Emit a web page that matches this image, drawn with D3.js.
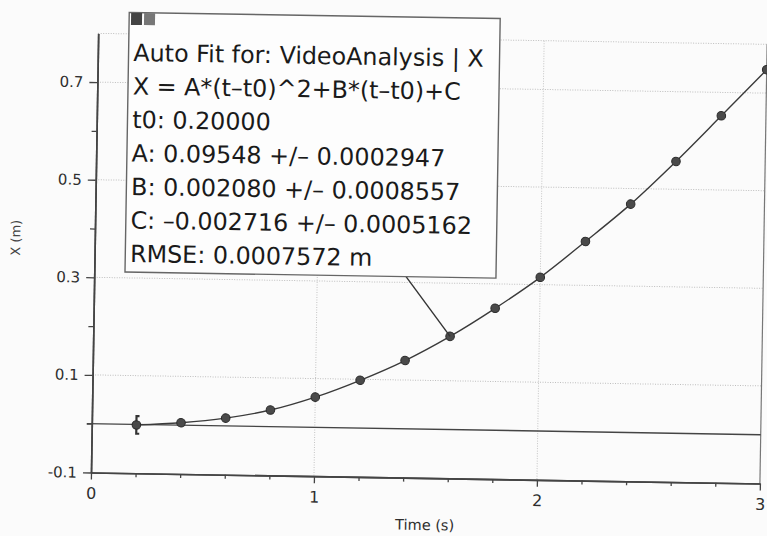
<!DOCTYPE html>
<meta charset="utf-8">
<style>
  body { margin: 0; background: #fbfbfb; }
  text { font-family: "DejaVu Sans", sans-serif; }
</style>

<!-- Load d3.js -->
<script src="https://d3js.org/d3.v7.min.js"></script>

<!-- Create a div where the graph will take place -->
<div id="my_dataviz"></div>

<script>

// values
var times = [0.2, 0.4, 0.6, 0.8, 1.0, 1.2, 1.4, 1.6, 1.8, 2.0, 2.2, 2.4, 2.6, 2.8, 3.0];
var positions = [-0.001, 0.005, 0.016, 0.034, 0.062, 0.098, 0.140, 0.191, 0.250, 0.315, 0.390, 0.468, 0.557, 0.652, 0.748];
var xTicks = [0, 1, 2, 3];
var xMinorTicks = [0.2, 0.4, 0.6, 0.8, 1.2, 1.4, 1.6, 1.8, 2.2, 2.4, 2.6, 2.8];
var yTicks = [-0.1, 0.1, 0.3, 0.5, 0.7];
var yMinorTicks = [0, 0.2, 0.4, 0.6];
var xGrid = [1, 2];
var yGrid = [0.1, 0.3, 0.5, 0.7, 0.8];
var errorIndex = 0, errorSize = 0.018;
var leaderIndex = 7;
var fitLines = [
  "Auto Fit for: VideoAnalysis | X",
  "X = A*(t\u2013t0)^2+B*(t\u2013t0)+C",
  "t0: 0.20000",
  "A: 0.09548 +/\u2013 0.0002947",
  "B: 0.002080 +/\u2013 0.0008557",
  "C: \u20130.002716 +/\u2013 0.0005162",
  "RMSE: 0.0007572 m"
];

// set the dimensions and margins of the graph
var margin = {top: 33.3, right: 7, bottom: 63.5, left: 91},
    width = 669,
    height = 439.2;

var svg = d3.select("#my_dataviz")
  .append("svg")
    .attr("width", 767)
    .attr("height", 536);

svg.append("rect").attr("width", 767).attr("height", 536).attr("fill", "#fbfbfb");

// the photographed page is turned a little
var page = svg.append("g")
  .attr("transform", "rotate(0.94," + margin.left + "," + (margin.top + height) + ")");

var plot = page.append("g")
  .attr("transform", "translate(" + margin.left + "," + margin.top + ")");

var x = d3.scaleLinear().domain([0, 3]).range([0, width]);
var y = d3.scaleLinear().domain([-0.1, 0.8]).range([height, 0]);

// grid
plot.selectAll("hgrid").data(yGrid).enter().append("line")
  .attr("x1", 0).attr("x2", width)
  .attr("y1", function(d) { return y(d); }).attr("y2", function(d) { return y(d); })
  .attr("stroke", "#bdbdbd").attr("stroke-width", 1).attr("stroke-dasharray", "1,1.5");
plot.selectAll("vgrid").data(xGrid).enter().append("line")
  .attr("y1", 0).attr("y2", height)
  .attr("x1", function(d) { return x(d); }).attr("x2", function(d) { return x(d); })
  .attr("stroke", "#c4c4c4").attr("stroke-width", 1).attr("stroke-dasharray", "1,1.5");

// right border
plot.append("line")
  .attr("x1", width).attr("x2", width).attr("y1", 0).attr("y2", height)
  .attr("stroke", "#777").attr("stroke-width", 1.2);

// zero line
plot.append("line")
  .attr("x1", -5).attr("x2", width)
  .attr("y1", y(0)).attr("y2", y(0))
  .attr("stroke", "#444").attr("stroke-width", 1.4);

// X axis
var xAxis = plot.append("g")
  .attr("transform", "translate(0," + height + ")")
  .call(d3.axisBottom(x).tickValues(xTicks).tickSize(7).tickSizeOuter(0).tickPadding(8)
    .tickFormat(d3.format("d")));
plot.append("g")
  .attr("transform", "translate(0," + height + ")")
  .call(d3.axisBottom(x).tickValues(xMinorTicks).tickSize(4).tickSizeOuter(0).tickFormat(""));

// Y axis
var yAxis = plot.append("g")
  .call(d3.axisLeft(y).tickValues(yTicks).tickSize(8).tickSizeOuter(0).tickPadding(6)
    .tickFormat(function(d) { return d3.format(".1f")(d).replace("\u2212", "-"); }));
plot.append("g")
  .call(d3.axisLeft(y).tickValues(yMinorTicks).tickSize(5).tickSizeOuter(0).tickFormat(""));

plot.selectAll(".domain").attr("stroke", "#444").attr("stroke-width", 1.6);
plot.selectAll(".tick line").attr("stroke", "#444").attr("stroke-width", 1.3);
xAxis.selectAll("text").attr("font-size", 16).attr("fill", "#2e2e2e").attr("font-family", "DejaVu Sans");
yAxis.selectAll("text").attr("font-size", 15).attr("fill", "#2e2e2e").attr("font-family", "DejaVu Sans");

// axis titles
page.append("text")
  .attr("x", margin.left + width / 2).attr("y", 524.5)
  .attr("text-anchor", "middle").attr("font-size", 14.5).attr("fill", "#2e2e2e")
  .text("Time (s)");
page.append("text")
  .attr("transform", "translate(12,239) rotate(-90)")
  .attr("text-anchor", "middle").attr("dominant-baseline", "central")
  .attr("font-size", 13).attr("fill", "#444")
  .text("X (m)");

// fit curve through the points
var pts = times.map(function(t, i) { return [t, positions[i]]; });
plot.append("path")
  .datum(pts)
  .attr("fill", "none").attr("stroke", "#3a3a3a").attr("stroke-width", 1.4)
  .attr("d", d3.line()
    .x(function(d) { return x(d[0]); })
    .y(function(d) { return y(d[1]); })
    .curve(d3.curveCatmullRom));

// error bar on the first point
var ex = x(times[errorIndex]), ey = positions[errorIndex];
plot.append("path")
  .attr("fill", "none").attr("stroke", "#333").attr("stroke-width", 2.2)
  .attr("d", "M" + (ex + 3) + "," + y(ey + errorSize) + "L" + ex + "," + y(ey + errorSize)
    + "L" + ex + "," + y(ey - errorSize) + "L" + (ex + 3) + "," + y(ey - errorSize));

// points
plot.selectAll("dots")
  .data(pts)
  .enter()
  .append("circle")
    .attr("cx", function(d) { return x(d[0]); })
    .attr("cy", function(d) { return y(d[1]); })
    .attr("r", 4.3)
    .attr("fill", "#4a4a4a")
    .attr("stroke", "#2a2a2a")
    .attr("stroke-width", 1);

// fit info box
var box = {x: 121.7, y: 11.9, w: 371, h: 259.6};
page.append("line")
  .attr("x1", 402.8).attr("y1", box.y + box.h)
  .attr("x2", margin.left + x(times[leaderIndex]))
  .attr("y2", margin.top + y(positions[leaderIndex]))
  .attr("stroke", "#333").attr("stroke-width", 1.4);
page.append("rect")
  .attr("x", box.x).attr("y", box.y).attr("width", box.w).attr("height", box.h)
  .attr("fill", "#fdfdfd").attr("stroke", "#666").attr("stroke-width", 1.4);
page.selectAll("icons").data([0, 1]).enter().append("rect")
  .attr("x", function(d) { return 123.6 + d * 13; }).attr("y", 12.3)
  .attr("width", 11).attr("height", 12)
  .attr("fill", function(d) { return d ? "#777" : "#444"; });
page.selectAll("fitText")
  .data(fitLines)
  .enter()
  .append("text")
    .attr("x", 126.5)
    .attr("y", function(d, i) { return 60.3 + i * 33.5; })
    .attr("font-size", 23.8)
    .attr("fill", "#1a1a1a")
    .text(function(d) { return d; });

</script>
